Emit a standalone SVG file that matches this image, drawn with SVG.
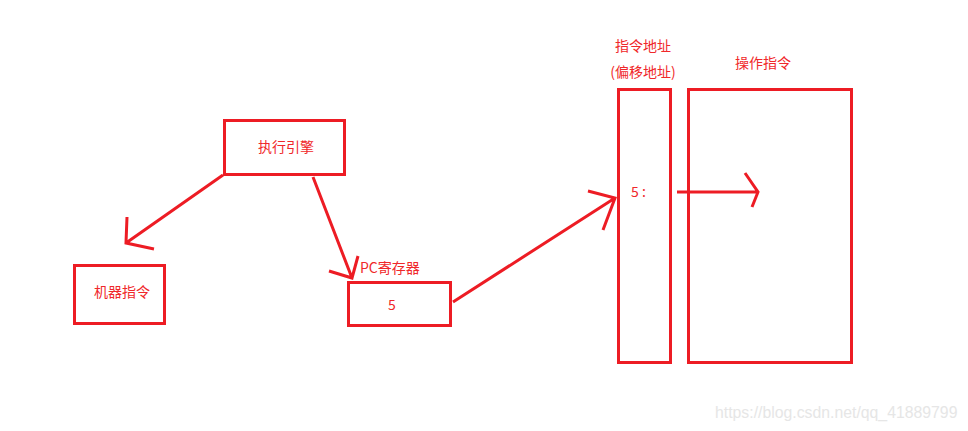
<svg xmlns="http://www.w3.org/2000/svg" width="968" height="431" viewBox="0 0 968 431">
<style>
.box{fill:none;stroke:#ed1c24;stroke-width:3}
.ln{fill:none;stroke:#ed1c24;stroke-width:3;stroke-linecap:butt;stroke-linejoin:miter}
text{font-family:"Noto Sans CJK SC","Liberation Sans",sans-serif;font-size:14px;fill:#f0282a}
.c{text-anchor:middle}
.wm{font-family:"Liberation Sans",Arial,sans-serif;font-size:15.8px;fill:#e6e6e6}
</style>
<rect width="968" height="431" fill="#fff"/>
<g id="engine">
<rect class="box" x="224.5" y="120.5" width="120" height="54"/>
<text class="c" x="286" y="152">执行引擎</text>
</g>
<g id="machine">
<rect class="box" x="74.5" y="265.5" width="90" height="58"/>
<text class="c" x="122" y="297">机器指令</text>
</g>
<g id="pc">
<rect class="box" x="348.5" y="282.5" width="102" height="43"/>
<text x="360" y="273">PC寄存器</text>
<text class="c" x="392" y="310">5</text>
</g>
<g id="addr">
<rect class="box" x="618.5" y="89.5" width="52" height="273"/>
<text class="c" x="643" y="51">指令地址</text>
<text class="c" x="643" y="77">(偏移地址)</text>
<text x="631" y="197" xml:space="preserve">5 :</text>
</g>
<g id="ops">
<rect class="box" x="688.5" y="89.5" width="163" height="273"/>
<text class="c" x="763" y="68">操作指令</text>
</g>
<g id="connectors">
<path class="ln" d="M223 175 L126 243 M127 217 L126 243 L154 249"/>
<path class="ln" d="M313 177 L352 278 M358 256 L352 278 L329 271"/>
<path class="ln" d="M453 302 L615 198 M588 191 L615 198 L603 230"/>
<path class="ln" d="M677 192 L758 192 M745 173 L758 192 L752 207"/>
</g>
<text class="wm" x="715" y="418">https://blog.csdn.net/qq_41889799</text>
</svg>
